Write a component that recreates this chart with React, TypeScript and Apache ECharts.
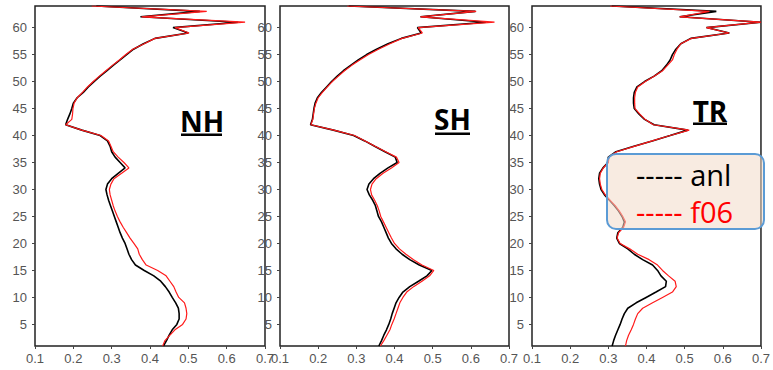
import React, { useEffect, useRef } from "react";
import * as echarts from "echarts";

// model levels 1..64 (bottom to top)
const levels: number[] = Array.from({ length: 64 }, (_, i) => i + 1);

const nhAnl = [
  0.435, 0.443, 0.450, 0.458, 0.470, 0.476, 0.476, 0.474, 0.467, 0.458,
  0.450, 0.440, 0.428, 0.410, 0.385, 0.362, 0.352, 0.345, 0.340, 0.335,
  0.328, 0.322, 0.317, 0.312, 0.307, 0.302, 0.297, 0.292, 0.288, 0.285,
  0.289, 0.300, 0.317, 0.335, 0.322, 0.309, 0.300, 0.296, 0.289, 0.270,
  0.222, 0.180, 0.185, 0.191, 0.196, 0.200, 0.210, 0.226, 0.239, 0.254,
  0.270, 0.287, 0.304, 0.322, 0.339, 0.357, 0.383, 0.413, 0.500, 0.460,
  0.630, 0.375, 0.530, 0.260,
];
const nhF06 = [
  0.433, 0.439, 0.452, 0.465, 0.485, 0.494, 0.496, 0.494, 0.490, 0.475,
  0.468, 0.462, 0.452, 0.442, 0.420, 0.390, 0.380, 0.372, 0.368, 0.358,
  0.348, 0.339, 0.330, 0.322, 0.315, 0.309, 0.304, 0.300, 0.296, 0.294,
  0.298, 0.306, 0.326, 0.345, 0.332, 0.317, 0.304, 0.298, 0.292, 0.272,
  0.222, 0.180, 0.196, 0.198, 0.199, 0.202, 0.210, 0.224, 0.237, 0.252,
  0.268, 0.285, 0.302, 0.320, 0.337, 0.355, 0.385, 0.413, 0.502, 0.465,
  0.648, 0.378, 0.548, 0.248,
];
const shAnl = [
  0.359, 0.366, 0.372, 0.379, 0.385, 0.390, 0.394, 0.399, 0.404, 0.412,
  0.422, 0.440, 0.463, 0.485, 0.498, 0.465, 0.440, 0.420, 0.404, 0.392,
  0.384, 0.378, 0.372, 0.366, 0.358, 0.354, 0.350, 0.343, 0.334, 0.328,
  0.333, 0.345, 0.362, 0.383, 0.407, 0.402, 0.375, 0.348, 0.322, 0.293,
  0.240, 0.180, 0.185, 0.187, 0.189, 0.192, 0.198, 0.209, 0.222, 0.235,
  0.250, 0.266, 0.285, 0.305, 0.327, 0.353, 0.383, 0.418, 0.470, 0.460,
  0.640, 0.468, 0.612, 0.280,
];
const shF06 = [
  0.363, 0.372, 0.380, 0.388, 0.393, 0.399, 0.404, 0.409, 0.414, 0.422,
  0.432, 0.450, 0.472, 0.492, 0.503, 0.472, 0.450, 0.430, 0.413, 0.400,
  0.392, 0.385, 0.378, 0.371, 0.364, 0.360, 0.355, 0.348, 0.340, 0.337,
  0.341, 0.352, 0.370, 0.392, 0.412, 0.405, 0.377, 0.349, 0.323, 0.295,
  0.241, 0.181, 0.186, 0.188, 0.190, 0.194, 0.200, 0.211, 0.224, 0.237,
  0.253, 0.269, 0.288, 0.309, 0.332, 0.358, 0.388, 0.420, 0.473, 0.462,
  0.662, 0.468, 0.614, 0.276,
];
const trAnl = [
  0.310, 0.314, 0.319, 0.325, 0.331, 0.336, 0.342, 0.351, 0.373, 0.399,
  0.425, 0.450, 0.452, 0.438, 0.429, 0.416, 0.390, 0.368, 0.351, 0.329,
  0.322, 0.325, 0.338, 0.342, 0.336, 0.327, 0.316, 0.303, 0.290, 0.281,
  0.277, 0.275, 0.277, 0.286, 0.299, 0.300, 0.320, 0.367, 0.415, 0.462,
  0.508, 0.420, 0.395, 0.380, 0.368, 0.366, 0.366, 0.368, 0.375, 0.395,
  0.420, 0.440, 0.452, 0.462, 0.468, 0.477, 0.490, 0.516, 0.617, 0.557,
  0.700, 0.487, 0.583, 0.309,
];
const trF06 = [
  0.345, 0.348, 0.353, 0.360, 0.366, 0.371, 0.377, 0.390, 0.416, 0.442,
  0.468, 0.478, 0.475, 0.458, 0.442, 0.429, 0.407, 0.377, 0.356, 0.331,
  0.323, 0.327, 0.340, 0.345, 0.338, 0.329, 0.318, 0.305, 0.292, 0.283,
  0.279, 0.277, 0.279, 0.287, 0.300, 0.302, 0.322, 0.368, 0.415, 0.462,
  0.512, 0.418, 0.396, 0.382, 0.370, 0.369, 0.369, 0.371, 0.377, 0.397,
  0.420, 0.442, 0.455, 0.468, 0.473, 0.480, 0.490, 0.518, 0.617, 0.557,
  0.700, 0.487, 0.565, 0.305,
];

const yTicks = [5, 10, 15, 20, 25, 30, 35, 40, 45, 50, 55, 60];
const xTicks = [0.1, 0.2, 0.3, 0.4, 0.5, 0.6, 0.7];
const panelNames = ["NH", "SH", "TR"];
const legendNames = ["anl", "f06"];

const panels = [
  { anl: nhAnl, f06: nhF06 },
  { anl: shAnl, f06: shF06 },
  { anl: trAnl, f06: trF06 },
];

const gridBoxes = [
  { left: 35, top: 6, width: 230, height: 340 },
  { left: 280, top: 6, width: 229, height: 340 },
  { left: 532, top: 6, width: 230, height: 340 },
];

const titlePos = [
  { x: 202, y: 121, ux: 181, uw: 41, uy: 133.5 },
  { x: 452.5, y: 119, ux: 435, uw: 35, uy: 132.5 },
  { x: 710, y: 111, ux: 693, uw: 34, uy: 122.5 },
];

export default function App() {
  const ref = useRef<HTMLDivElement>(null);
  useEffect(() => {
    if (!ref.current) return;
    const chart = echarts.init(ref.current, undefined, { renderer: "svg" });
    const labelColor = "#555";
    const grids = gridBoxes.map((g) => ({
      ...g,
      show: true,
      borderColor: "#222",
      borderWidth: 1.5,
      backgroundColor: "transparent",
    }));
    const xAxes = gridBoxes.map((_, i) => ({
      type: "value",
      gridIndex: i,
      min: 0.1,
      max: 0.7,
      interval: 0.1,
      axisLine: { show: false },
      splitLine: { show: false },
      axisTick: { show: true, length: 3, lineStyle: { color: "#444" }, customValues: xTicks },
      axisLabel: {
        color: labelColor,
        fontFamily: "Liberation Sans",
        fontSize: 13,
        margin: 6,
        customValues: xTicks,
        formatter: (v: number) => v.toFixed(1),
      },
    }));
    const yAxes = gridBoxes.map((_, i) => ({
      type: "value",
      gridIndex: i,
      min: 1,
      max: 64,
      axisLine: { show: false },
      splitLine: { show: false },
      axisTick: { show: true, length: 3, lineStyle: { color: "#444" }, customValues: yTicks },
      axisLabel: {
        color: labelColor,
        fontFamily: "Liberation Sans",
        fontSize: 13,
        margin: 8,
        customValues: yTicks,
      },
    }));
    const series: any[] = [];
    panels.forEach((p, i) => {
      series.push({
        type: "line",
        name: legendNames[0],
        xAxisIndex: i,
        yAxisIndex: i,
        symbol: "none",
        data: levels.map((l, k) => [p.anl[k], l]),
        lineStyle: { color: "#000", width: 1.6 },
        z: 3,
      });
      series.push({
        type: "line",
        name: legendNames[1],
        xAxisIndex: i,
        yAxisIndex: i,
        symbol: "none",
        data: levels.map((l, k) => [p.f06[k], l]),
        lineStyle: { color: "#ff1a1a", width: 1.2 },
        z: 4,
      });
    });
    const graphics: any[] = [];
    panelNames.forEach((n, i) => {
      const t = titlePos[i];
      graphics.push({
        type: "text",
        x: t.x,
        y: t.y,
        z: 10,
        style: {
          text: n,
          fill: "#000",
          font: "bold 28px 'Open Sans'",
          textAlign: "center",
          textVerticalAlign: "middle",
        },
      });
      graphics.push({
        type: "rect",
        z: 10,
        shape: { x: t.ux, y: t.uy, width: t.uw, height: 2.5 },
        style: { fill: "#000" },
      });
    });
    graphics.push({
      type: "rect",
      z: 20,
      shape: { x: 607, y: 154, width: 157, height: 75, r: 9 },
      style: { fill: "rgba(242,218,200,0.55)", stroke: "#5b9bd5", lineWidth: 2 },
    });
    graphics.push({
      type: "text",
      z: 21,
      x: 636,
      y: 174,
      style: {
        text: "----- " + legendNames[0],
        fill: "#000",
        font: "29px 'Open Sans'",
        textAlign: "left",
        textVerticalAlign: "middle",
      },
    });
    graphics.push({
      type: "text",
      z: 21,
      x: 636,
      y: 211,
      style: {
        text: "----- " + legendNames[1],
        fill: "#ff0000",
        font: "29px 'Open Sans'",
        textAlign: "left",
        textVerticalAlign: "middle",
      },
    });
    chart.setOption({
      animation: false,
      backgroundColor: "#fff",
      grid: grids,
      xAxis: xAxes,
      yAxis: yAxes,
      series,
      graphic: graphics,
    });
    return () => chart.dispose();
  }, []);
  return (
    <div
      ref={ref}
      style={{ position: "fixed", left: 0, top: 0, width: 773, height: 370 }}
    />
  );
}
